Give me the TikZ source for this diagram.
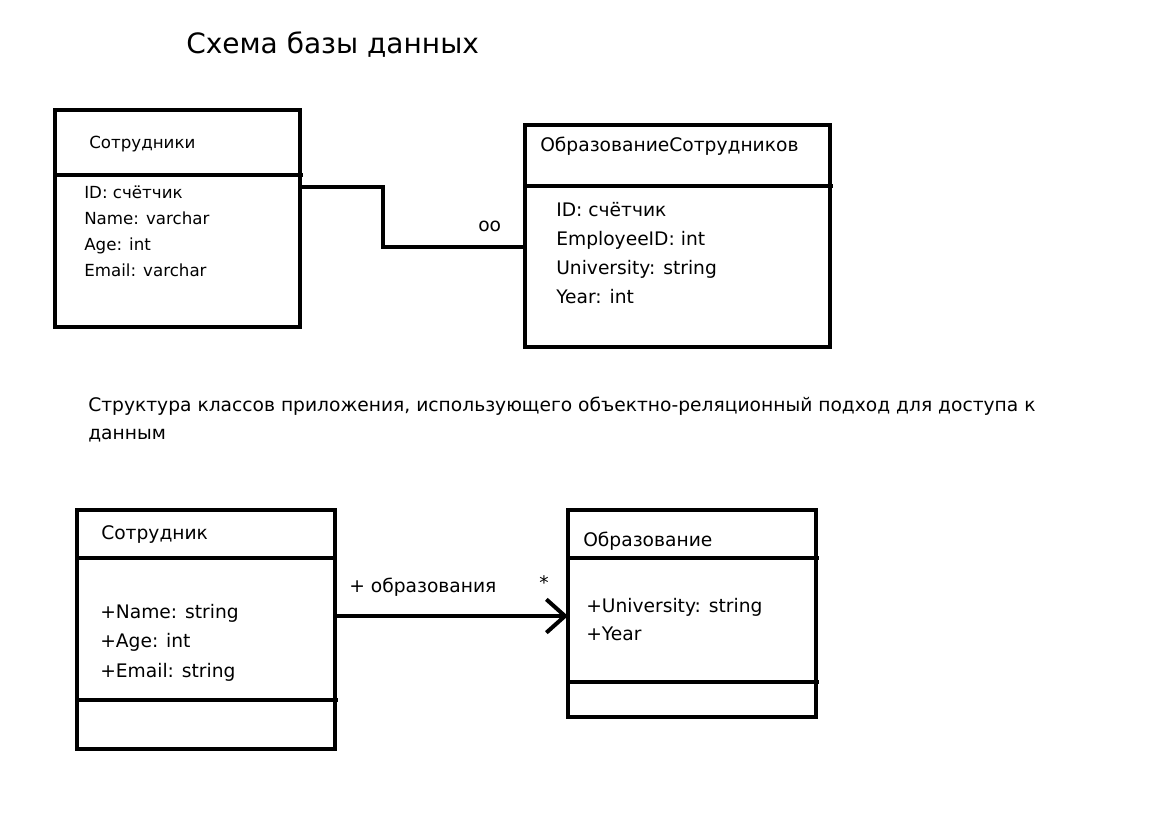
\documentclass[tikz,border=0pt]{standalone}
\usepackage{fontspec}
\setmainfont{DejaVu Sans}
\usetikzlibrary{arrows.meta}

\begin{document}
\begin{tikzpicture}[x=0.75pt,y=-0.75pt,
  box/.style={draw,line width=3pt,anchor=north west,inner sep=0pt,outer sep=0pt},
  lbl/.style={anchor=mid west,inner sep=0pt},
  wire/.style={line width=3pt},
  small/.style={font=\fontsize{12.5}{15}\selectfont},
  big/.style={font=\fontsize{14}{17}\selectfont}]
  \useasboundingbox (0,0) rectangle (1152,839);

  % database schema
  \node[lbl,font=\fontsize{21}{25}\selectfont] (dbtitle) at (186,50) {Схема базы данных};

  \node[box,minimum width=183.75pt,minimum height=162.75pt] (emp) at (55,110) {};
  \draw[wire] (emp.west |- 0,175) -- ([xshift=2pt]emp.east |- 0,175);
  \node[lbl,small] (empname) at (89,145) {Сотрудники};
  \foreach \y/\t [count=\i] in {195/ID: счётчик,221/Name: varchar,247/Age: int,273/Email: varchar} {
    \node[lbl,small] (emp\i) at (84,\y) {\t};
  }

  \node[box,minimum width=228.75pt,minimum height=166.5pt] (edu) at (525,125) {};
  \draw[wire] (edu.west |- 0,186) -- ([xshift=2pt]edu.east |- 0,186);
  \node[lbl,big] (eduname) at (540,148) {ОбразованиеСотрудников};
  \foreach \y/\t [count=\i] in {213/ID: счётчик,242/EmployeeID: int,271/University: string,300/Year: int} {
    \node[lbl,big] (edu\i) at (556,\y) {\t};
  }

  \coordinate (bend) at (383,247);
  \draw[wire] (emp.east |- 0,187) -| (bend) -- (edu.west |- bend);
  \node[lbl,big] (mult) at (478,228) {oo};

  % class structure
  \node[lbl,big] (cltitle1) at (88,408) {Структура классов приложения, использующего объектно-реляционный подход для доступа к};
  \node[lbl,big] (cltitle2) at (88,436) {данным};

  \node[box,minimum width=193.5pt,minimum height=179.25pt] (staff) at (77,510) {};
  \draw[wire] (staff.west |- 0,558) -- (staff.east |- 0,558);
  \draw[wire] (staff.west |- 0,700) -- ([xshift=2pt]staff.east |- 0,700);
  \node[lbl,big] (staffname) at (101,536) {Сотрудник};
  \foreach \y/\t [count=\i] in {615/+Name: string,644/+Age: int,674/+Email: string} {
    \node[lbl,big] (staff\i) at (100,\y) {\t};
  }

  \node[box,minimum width=186pt,minimum height=155.25pt] (educ) at (568,510) {};
  \draw[wire] (educ.west |- 0,558) -- ([xshift=2pt]educ.east |- 0,558);
  \draw[wire] (educ.west |- 0,682) -- ([xshift=2pt]educ.east |- 0,682);
  \node[lbl,big] (educname) at (583,543) {Образование};
  \foreach \y/\t [count=\i] in {609/+University: string,637/+Year} {
    \node[lbl,big] (educ\i) at (586,\y) {\t};
  }

  \draw[wire,-{Straight Barb[length=14pt,width=25pt]}] (staff.east |- 0,616) -- (educ.west |- 0,616);
  \node[lbl,big] (role) at (349,589) {+ образования};
  \node[lbl,big] (star) at (539,586) {*};
\end{tikzpicture}
\end{document}
